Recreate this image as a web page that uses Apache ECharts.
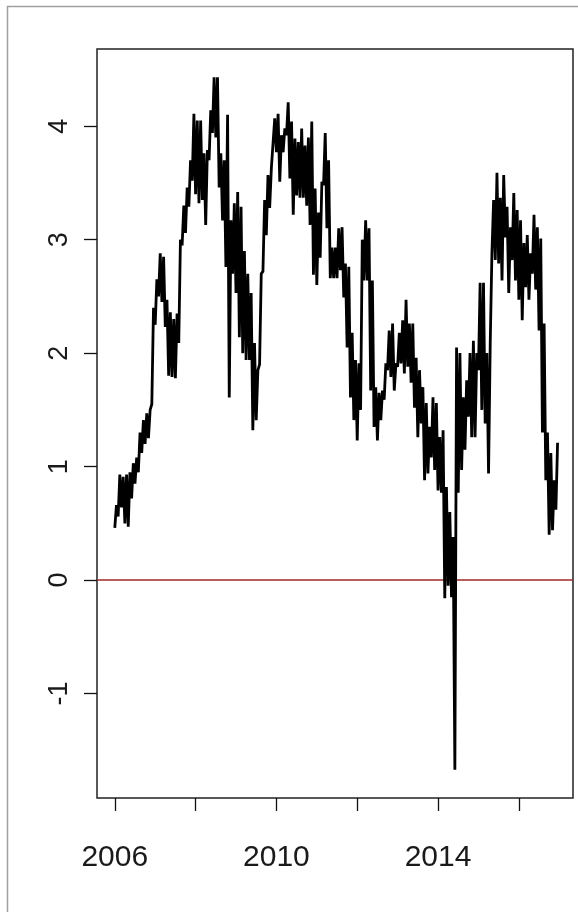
<!DOCTYPE html>
<html>
<head>
<meta charset="utf-8">
<script src="https://cdn.jsdelivr.net/npm/echarts@6/dist/echarts.min.js"></script>
<style>
html,body{margin:0;padding:0;background:#fff;}
#chart{width:578px;height:912px;}
</style>
</head>
<body>
<div id="chart"></div>
<script>
// Monthly sampling of the series, starting January 2006
const startYear = 2006;
const monthsPerYear = 12;
// monthly upper envelope of the daily series
const highs = [0.66,0.93,0.91,0.93,0.95,1.03,1.08,1.30,1.41,1.47,1.50,2.40,
  2.65,2.88,2.85,2.47,2.36,2.30,2.35,3.00,3.30,3.46,3.70,4.11,
  4.05,4.05,3.76,3.79,4.14,4.43,4.43,3.76,3.70,4.10,3.17,3.32,
  3.42,3.29,2.90,2.70,2.53,2.09,1.85,2.70,3.35,3.57,3.63,4.07,
  4.11,3.92,3.98,4.21,4.04,3.89,3.86,3.98,3.83,3.90,4.04,3.45,
  3.24,3.51,3.94,3.70,2.93,2.93,3.10,3.11,2.79,2.76,2.18,1.94,
  1.91,3.00,3.17,3.10,2.64,1.70,1.65,1.67,1.91,2.20,2.26,1.91,
  2.18,2.29,2.47,2.26,2.26,1.96,1.85,1.70,1.56,1.35,1.61,1.56,
  1.26,1.32,0.82,0.60,0.38,2.05,2.00,1.61,1.76,2.00,2.11,2.00,
  2.62,2.62,2.00,2.09,3.35,3.59,3.37,3.57,3.29,3.11,3.41,3.26,
  3.17,2.97,3.04,2.88,3.22,3.11,3.01,2.26,1.30,1.12,0.88,1.21];
// monthly lower envelope of the daily series
const lows = [0.46,0.56,0.64,0.50,0.47,0.72,0.85,0.95,1.12,1.20,1.25,1.55,
  2.25,2.50,2.45,2.23,1.80,1.79,1.78,2.09,2.95,3.06,3.29,3.52,
  3.40,3.32,3.35,3.13,3.70,3.94,3.90,3.46,3.17,2.76,1.61,2.70,
  2.53,2.14,2.00,1.94,1.94,1.32,1.41,1.90,2.72,3.04,3.28,3.63,
  3.77,3.51,3.77,3.92,3.54,3.22,3.39,3.37,3.37,3.30,3.13,2.69,
  2.60,2.84,3.48,3.10,2.66,2.66,2.66,2.73,2.49,2.05,1.61,1.41,
  1.23,1.50,2.64,2.64,1.67,1.35,1.23,1.41,1.59,1.85,1.79,1.67,
  1.88,1.91,1.82,1.88,1.74,1.52,1.26,1.38,0.88,0.94,1.08,0.97,
  0.79,0.77,-0.16,-0.05,-0.15,-1.67,0.77,0.97,1.15,1.44,1.26,1.26,
  1.85,1.50,1.38,0.94,2.88,2.82,2.79,2.64,3.02,2.53,2.82,2.64,
  2.47,2.29,2.58,2.47,2.70,2.56,2.20,1.30,0.88,0.40,0.44,0.62];
const xTickValues = [2006, 2008, 2010, 2012, 2014, 2016];
const xLabelValues = [2006, 2010, 2014];
const yTickValues = [-1, 0, 1, 2, 3, 4];
const referenceLevel = 0;

const seriesData = [];
for (let i = 0; i < highs.length; i++) {
  const t = startYear + i / monthsPerYear;
  seriesData.push([t, lows[i]]);
  seriesData.push([t + 0.5 / monthsPerYear, highs[i]]);
}

const chart = echarts.init(document.getElementById('chart'), null, {renderer: 'canvas'});
const font = '"Liberation Sans", Arial, sans-serif';
chart.setOption({
  backgroundColor: '#ffffff',
  animation: false,
  graphic: [{
    type: 'rect',
    shape: {x: 7.5, y: 6.5, width: 700, height: 1000},
    style: {fill: 'none', stroke: '#a0a0a0', lineWidth: 1.5},
    silent: true
  }],
  grid: {
    left: 97, right: 5, top: 49, bottom: 114,
    show: true, borderColor: '#222', borderWidth: 1.5,
    backgroundColor: 'transparent'
  },
  xAxis: {
    type: 'value',
    min: 2005.56, max: 2017.34,
    axisLine: {show: false, onZero: false},
    splitLine: {show: false},
    axisTick: {show: true, inside: false, length: 13, customValues: xTickValues,
      lineStyle: {color: '#111', width: 1.3}},
    axisLabel: {show: true, customValues: xLabelValues, margin: 45,
      fontFamily: font, fontSize: 30, color: '#1a1a1a',
      formatter: v => String(v)}
  },
  yAxis: {
    type: 'value',
    min: -1.92, max: 4.68,
    axisLine: {show: false, onZero: false},
    splitLine: {show: false},
    axisTick: {show: true, inside: false, length: 13, customValues: yTickValues,
      lineStyle: {color: '#111', width: 1.3}},
    axisLabel: {show: true, customValues: yTickValues, rotate: 90, margin: 24,
      fontFamily: font, fontSize: 27, color: '#1a1a1a',
      formatter: v => String(v)}
  },
  series: [{
    type: 'line',
    data: seriesData,
    showSymbol: false,
    symbol: 'none',
    lineStyle: {color: '#000', width: 2.8, join: 'miter', miterLimit: 2},
    z: 3,
    markLine: {
      silent: true,
      symbol: ['none', 'none'],
      label: {show: false},
      lineStyle: {color: '#a02828', width: 1.5, type: 'solid'},
      data: [{yAxis: referenceLevel}],
      z: 2
    }
  }]
});
</script>
</body>
</html>
